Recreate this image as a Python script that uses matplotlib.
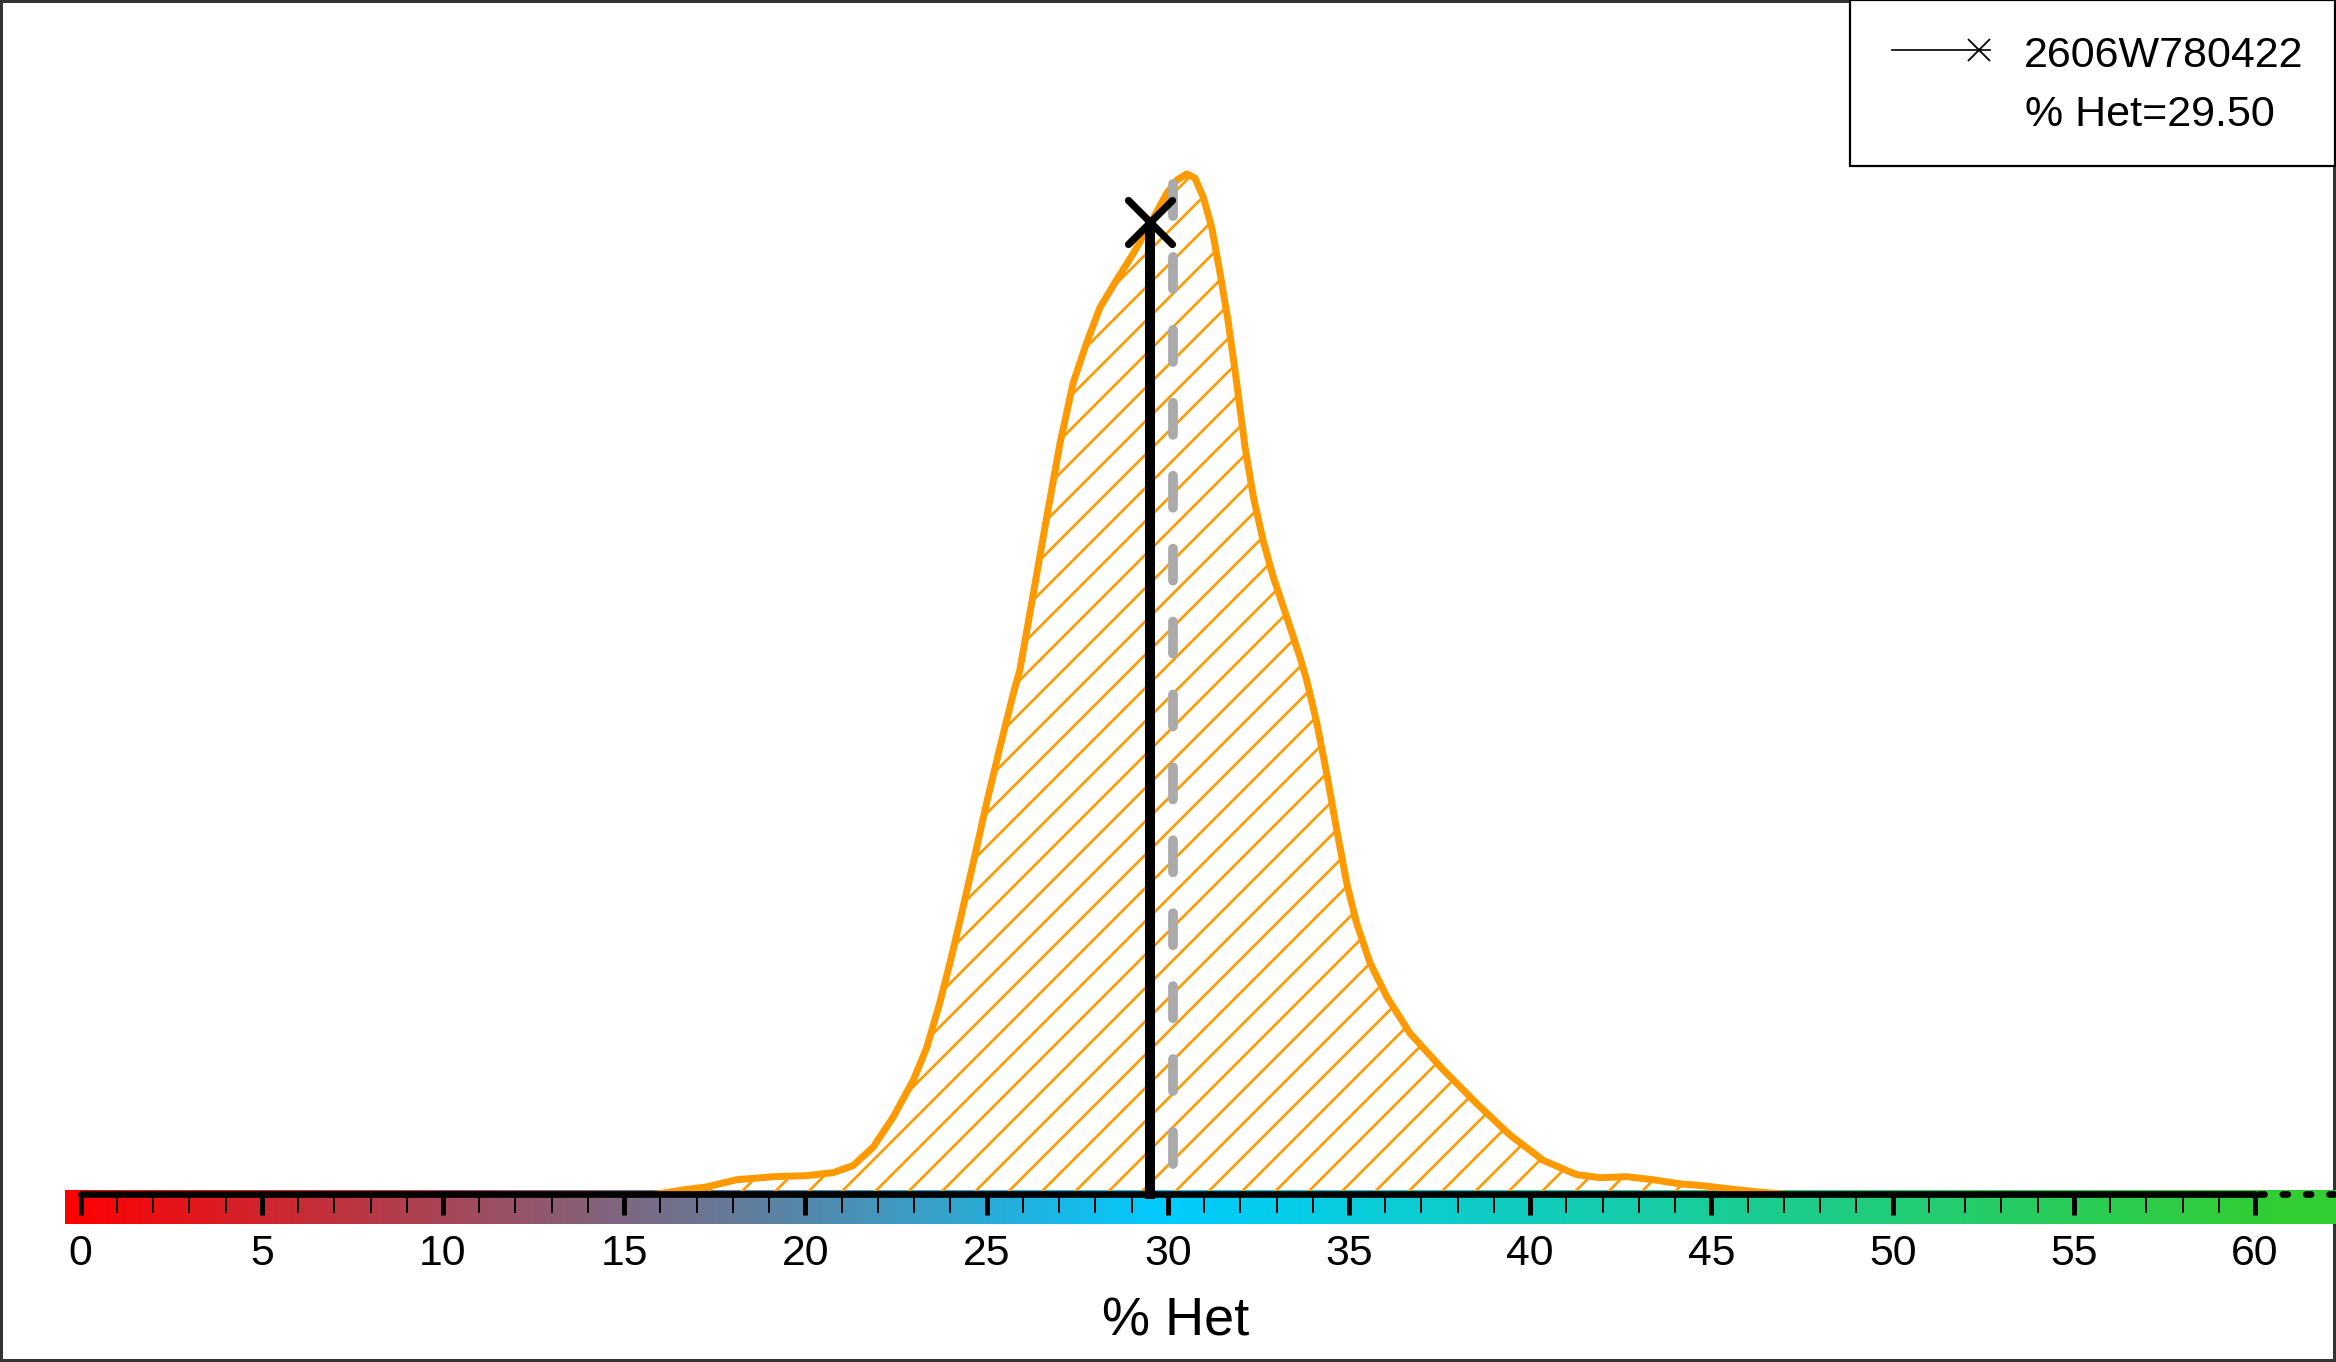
import numpy as np
import matplotlib
matplotlib.use('Agg')
import matplotlib.pyplot as plt
import matplotlib.colors as mcolors
from matplotlib.lines import Line2D
from matplotlib.markers import MarkerStyle
from matplotlib.patches import Rectangle

plt.rcParams['font.family'] = ['Liberation Sans', 'DejaVu Sans']
plt.rcParams['hatch.linewidth'] = 0.95

# density curve (% Het, density)
het = [15.9, 16.63, 17.28, 18.1, 19.11, 20.04, 20.77, 21.32, 21.87, 22.43,
       22.98, 23.35, 23.71, 23.99, 24.27, 24.63, 25.0, 25.37, 25.74, 25.92,
       26.29, 26.66, 27.03, 27.39, 27.76, 28.13, 28.59, 29.05, 29.42, 29.97,
       30.25, 30.52, 30.75, 30.98, 31.21, 31.44, 31.67, 31.9, 32.13, 32.36,
       32.63, 32.91, 33.28, 33.65, 33.83, 34.11, 34.38, 34.66, 34.94, 35.21,
       35.58, 36.04, 36.68, 37.6, 38.52, 39.44, 40.36, 41.28, 41.93, 42.66,
       43.4, 44.13, 44.8, 45.5, 46.3, 47.0]
densidade = [0.0, 0.0004, 0.0007, 0.0014, 0.0017, 0.0018, 0.0021, 0.0028, 0.0046, 0.0076,
             0.0112, 0.0144, 0.0188, 0.0227, 0.0269, 0.0325, 0.0384, 0.0439, 0.0492, 0.0515,
             0.0590, 0.0665, 0.0738, 0.0797, 0.0836, 0.0871, 0.0898, 0.0924, 0.0947, 0.0983,
             0.0996, 0.1002, 0.0998, 0.0979, 0.0950, 0.0905, 0.0856, 0.0797, 0.0734, 0.0685,
             0.0642, 0.0606, 0.0567, 0.0527, 0.0505, 0.0463, 0.0414, 0.0358, 0.0305, 0.0266,
             0.0227, 0.0194, 0.0158, 0.0122, 0.0089, 0.0058, 0.0033, 0.0019, 0.0016, 0.0017,
             0.0014, 0.0010, 0.0008, 0.0005, 0.0002, 0.0]

amostra = '2606W780422'
het_amostra = 29.50
dens_amostra = 0.0955
het_mediana = 30.15
dens_mediana = 0.0992

ticks_maiores = list(range(0, 61, 5))
ticks_menores = list(range(0, 61, 1))

cores_barra = ['#FF0000', '#00CCFF', '#32CD32']
pos_cores = [-0.42, 30, 60.6]

laranja = '#FF9900'

W, H = 2336, 1362
DPI = 200
fig = plt.figure(figsize=(W / DPI, H / DPI), dpi=DPI)
ax = fig.add_axes([0, 0, 1, 1])

# pixel layout of the original: 0 at x=80.6 px, 36.24 px per unit, baseline at y=1194 px
x_min = -80.6 / 36.24
x_max = (W - 80.6) / 36.24
k = 0.1 / 1018

# colour bar under the axis
xs = np.linspace(pos_cores[0], x_max, 1200)
rgb = np.array([mcolors.to_rgb(c) for c in cores_barra])
grad = np.stack([np.interp(xs, pos_cores, rgb[:, i]) for i in range(3)], axis=-1)[None, :, :]
ax.imshow(grad, extent=(pos_cores[0], x_max, -30 * k, 4 * k), aspect='auto',
          interpolation='bilinear', zorder=0.5)

ax.fill_between(het, 0, densidade, facecolor='none', edgecolor=laranja,
                hatch='//', linewidth=0, zorder=1)
ax.plot(het, densidade, color=laranja, lw=2.5, solid_joinstyle='round',
        solid_capstyle='round', zorder=2)

ax.plot([het_mediana, het_mediana], [dens_mediana, 0], color='#AAAAAA', lw=3.5,
        linestyle=(0, (3.3, 4.2)), dash_capstyle='round', zorder=3)

ax.plot([het_amostra, het_amostra], [0, dens_amostra], color='black', lw=3.6,
        solid_capstyle='projecting', zorder=4)
ax.plot([het_amostra], [dens_amostra], linestyle='none', color='black',
        marker=MarkerStyle('x', capstyle='round'), ms=16, mew=2.6, zorder=5)

# dotted continuation of the axis past 60
ax.plot([60.1, x_max], [0, 0], color='black', lw=2.4, linestyle=(0, (0.75, 2.75)),
        dash_capstyle='round', zorder=2.6)

ax.set_xlim(x_min, x_max)
ax.set_ylim(-(H - 1194) * k, 1194 * k)

for s in ['top', 'left', 'right']:
    ax.spines[s].set_visible(False)
ax.spines['bottom'].set_position(('data', 0))
ax.spines['bottom'].set_bounds(0, 60)
ax.spines['bottom'].set_linewidth(2.4)
ax.spines['bottom'].set_capstyle('round')
ax.yaxis.set_visible(False)
ax.patch.set_visible(False)

ax.set_xticks(ticks_maiores)
ax.set_xticks(ticks_menores, minor=True)
ax.tick_params(axis='x', which='major', direction='out', length=7.5, width=1.8,
               pad=7.0, labelsize=15.4, colors='black')
ax.tick_params(axis='x', which='minor', direction='out', length=7.0, width=0.7)

ax.set_xlabel('% Het', fontsize=19.5)
ax.xaxis.set_label_coords(1176 / W, 1 - 1296 / H)


def fx(px):
    return px / W


def fy(py):
    return 1 - py / H


# legend box
fig.add_artist(Rectangle((fx(1850), fy(166)), fx(2335) - fx(1850), fy(0) - fy(166),
                         transform=fig.transFigure, facecolor='white',
                         edgecolor='black', lw=0.8, zorder=10))
fig.add_artist(Line2D([fx(1892), fx(1990)], [fy(50), fy(50)], transform=fig.transFigure,
                      color='black', lw=0.6, zorder=11))
fig.add_artist(Line2D([fx(1978.6)], [fy(49.6)], transform=fig.transFigure,
                      color='black', marker='x', ms=8.2, mew=0.65, linestyle='none', zorder=11))
fig.text(fx(2024), fy(67.3), amostra, fontsize=15.5, ha='left', va='baseline', zorder=12)
fig.text(fx(2025), fy(125.8), '%% Het=%.2f' % het_amostra, fontsize=15.5,
         ha='left', va='baseline', zorder=12)

fig.patch.set_edgecolor('#333333')
fig.patch.set_linewidth(1.5)

fig.savefig('out.png', dpi=DPI)
